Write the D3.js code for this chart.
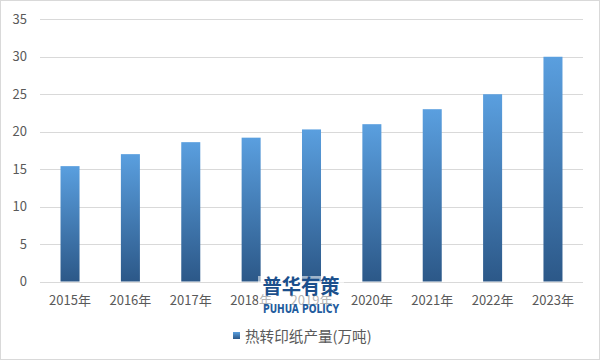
<!DOCTYPE html>
<html><head><meta charset="utf-8">
<script src="https://cdn.jsdelivr.net/npm/d3@7"></script>
<style>body{margin:0;background:#fff}svg{display:block}</style>
</head><body>
<script>
const categories = ["2015年","2016年","2017年","2018年","2019年","2020年","2021年","2022年","2023年"];
const values = [15.4, 17.0, 18.6, 19.2, 20.3, 21.0, 23.0, 25.0, 30.0];
const yTicks = [0, 5, 10, 15, 20, 25, 30, 35];
const seriesName = "热转印纸产量(万吨)";

const W = 601, H = 361;
const font = "'Microsoft YaHei','Noto Sans CJK SC','DejaVu Sans',sans-serif";
const svg = d3.select("body").append("svg").attr("width", W).attr("height", H);

svg.append("rect").attr("x", 0.5).attr("y", 0.5).attr("width", W - 2).attr("height", H - 2)
  .attr("fill", "#fff").attr("stroke", "#d9d9d9");

const defs = svg.append("defs");
const g = defs.append("linearGradient").attr("id", "barGrad").attr("x1", 0).attr("y1", 0).attr("x2", 0).attr("y2", 1);
g.append("stop").attr("offset", "0%").attr("stop-color", "#5a9fdf");
g.append("stop").attr("offset", "100%").attr("stop-color", "#2c5888");
const lg = defs.append("linearGradient").attr("id", "legGrad").attr("x1", 0).attr("y1", 0).attr("x2", 0).attr("y2", 1);
lg.append("stop").attr("offset", "0%").attr("stop-color", "#5a9fdf");
lg.append("stop").attr("offset", "100%").attr("stop-color", "#2c5888");

const x = d3.scaleBand().domain(categories).range([40, 583]).paddingInner(0.685).paddingOuter(0.34);
const y = d3.scaleLinear().domain([0, 35]).range([281.5, 19.3]);

// gridlines
svg.append("g").selectAll("line").data(yTicks).join("line")
  .attr("x1", 40).attr("x2", 583)
  .attr("y1", d => Math.round(y(d)) + 0.5).attr("y2", d => Math.round(y(d)) + 0.5)
  .attr("stroke", "#d9d9d9").attr("stroke-width", 1);

// y labels
const yAxis = d3.axisLeft(y).tickValues(yTicks).tickSize(0).tickPadding(0);
const ya = svg.append("g").attr("transform", "translate(27,0)").call(yAxis);
ya.select(".domain").remove();
ya.selectAll("text").attr("font-family", font).attr("font-size", 13).attr("fill", "#595959");

// bars
svg.append("g").selectAll("rect").data(values).join("rect")
  .attr("x", (d, i) => x(categories[i]))
  .attr("width", x.bandwidth())
  .attr("y", d => y(d))
  .attr("height", d => y(0) - y(d))
  .attr("fill", "url(#barGrad)");

// x labels
const xAxis = d3.axisBottom(x).tickSize(0).tickPadding(14);
const xa = svg.append("g").attr("transform", "translate(0,281.5)").call(xAxis);
xa.select(".domain").remove();
xa.selectAll("text").attr("font-family", font).attr("font-size", 13).attr("fill", "#595959");

// legend
svg.append("rect").attr("x", 233).attr("y", 332).attr("width", 7).attr("height", 7).attr("fill", "url(#legGrad)");
svg.append("text").attr("x", 245).attr("y", 341.5).attr("font-family", font).attr("font-size", 14.6)
  .attr("fill", "#595959").text(seriesName);

// watermark
const wm = svg.append("g");
wm.append("rect").attr("x", 258).attr("y", 276).attr("width", 86).attr("height", 39).attr("fill", "#fff").attr("opacity", 0.55);
wm.append("text").attr("x", 301).attr("y", 294).attr("text-anchor", "middle")
  .attr("font-family", font).attr("font-weight", "bold").attr("font-size", 20)
  .attr("textLength", 77).attr("lengthAdjust", "spacingAndGlyphs")
  .attr("fill", "#1b4f8c").text("普华有策");
wm.append("text").attr("x", 301).attr("y", 312.5).attr("text-anchor", "middle")
  .attr("font-family", "'DejaVu Sans Condensed','Liberation Sans Narrow',sans-serif").attr("font-weight", "bold").attr("font-size", 11.5)
  .attr("textLength", 76).attr("lengthAdjust", "spacingAndGlyphs")
  .attr("fill", "#1f5c9e").text("PUHUA POLICY");
</script>
</body></html>
